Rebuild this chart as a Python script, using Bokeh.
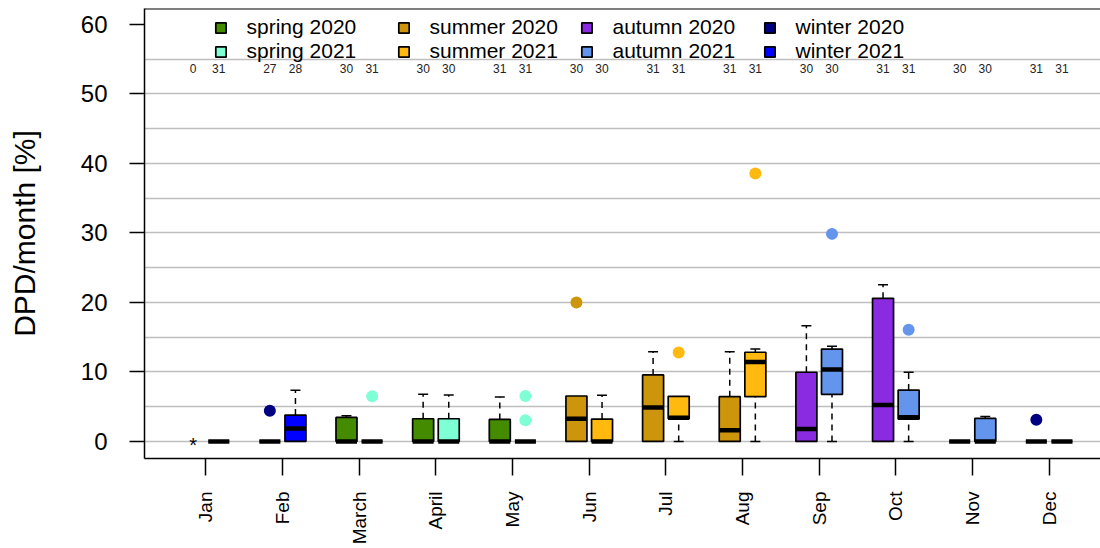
import math
from bokeh.plotting import figure
from bokeh.models import FixedTicker, Legend, LegendItem, Span, Range1d
from bokeh.embed import file_html
from bokeh.resources import INLINE
from bokeh.core.properties import value

# ---------------- data ----------------
months = ["Jan", "Feb", "March", "April", "May", "Jun", "Jul", "Aug", "Sep", "Oct", "Nov", "Dec"]
season_of_month = ["winter", "winter", "spring", "spring", "spring", "summer",
                   "summer", "summer", "autumn", "autumn", "autumn", "winter"]
years = ["2020", "2021"]

# box statistics per month (None = no data)
low_2020 = [None, 0, 0, 0, 0, 0, 0, 0, 0, 0, 0, 0]
q1_2020 = [None, 0, 0, 0, 0, 0, 0, 0, 0, 0, 0, 0]
med_2020 = [None, 0, 0, 0, 0, 3.27, 4.9, 1.63, 1.78, 5.24, 0, 0]
q3_2020 = [None, 0, 3.46, 3.27, 3.17, 6.54, 9.57, 6.45, 9.96, 20.6, 0, 0]
high_2020 = [None, 0, 3.7, 6.78, 6.4, 6.54, 12.9, 12.9, 16.64, 22.55, 0, 0]

low_2021 = [0, 0, 0, 0, 0, 0, 0, 0, 0, 0, 0, 0]
q1_2021 = [0, 0, 0, 0, 0, 0, 3.27, 6.45, 6.78, 3.22, 0, 0]
med_2021 = [0, 1.88, 0, 0, 0, 0, 3.4, 11.44, 10.34, 3.5, 0, 0]
q3_2021 = [0, 3.8, 0, 3.27, 0, 3.22, 6.49, 12.84, 13.3, 7.4, 3.32, 0]
high_2021 = [0, 7.36, 0, 6.68, 0, 6.64, 6.49, 13.3, 13.7, 9.96, 3.6, 0]

# outliers
out_month = ["Feb", "March", "May", "May", "Jun", "Jul", "Aug", "Sep", "Oct", "Dec"]
out_year = ["2020", "2021", "2021", "2021", "2020", "2021", "2021", "2021", "2021", "2020"]
out_value = [4.43, 6.49, 6.54, 3.07, 20.0, 12.8, 38.57, 29.87, 16.06, 3.13]

# number of days with data
counts_2020 = [0, 27, 30, 30, 31, 30, 31, 31, 30, 31, 30, 31]
counts_2021 = [31, 28, 31, 30, 31, 30, 31, 31, 30, 31, 30, 31]

colors = {
    ("spring", "2020"): "#458B00", ("spring", "2021"): "#7FFFD4",
    ("summer", "2020"): "#CD950C", ("summer", "2021"): "#FFB90F",
    ("autumn", "2020"): "#8A2BE2", ("autumn", "2021"): "#6495ED",
    ("winter", "2020"): "#000080", ("winter", "2021"): "#0000FF",
}
seasons = ["spring", "summer", "autumn", "winter"]

# ---------------- layout constants ----------------
OFFSET = 0.167
BOX_W = 0.274
CAP_W = 0.13
FONT = "Liberation Sans"

stats = {
    "2020": (low_2020, q1_2020, med_2020, q3_2020, high_2020),
    "2021": (low_2021, q1_2021, med_2021, q3_2021, high_2021),
}


def xpos(month_idx, year):
    return month_idx + 1 + (-OFFSET if year == "2020" else OFFSET)


p = figure(width=1100, height=548, output_backend="svg", toolbar_location=None,
           x_range=Range1d(0.1977, 12.670), y_range=Range1d(-2.45, 62.3),
           min_border_left=144, min_border_right=0, min_border_top=8, min_border_bottom=90)
p.outline_line_color = None
p.background_fill_color = "white"
p.xgrid.visible = False
p.ygrid.ticker = FixedTicker(ticks=list(range(0, 60, 5)))
p.ygrid.grid_line_color = "#BEBEBE"
p.ygrid.grid_line_width = 1.5

# y axis
p.yaxis.ticker = FixedTicker(ticks=list(range(0, 61, 10)))
p.yaxis.minor_tick_line_color = None
p.yaxis.major_tick_in = 0
p.yaxis.major_tick_out = 15
p.yaxis.major_tick_line_width = 1.5
p.yaxis.axis_line_width = 1.5
p.yaxis.major_label_text_font = FONT
p.yaxis.major_label_text_font_size = "24px"
p.yaxis.major_label_text_color = "black"
p.yaxis.major_label_standoff = 22
p.yaxis.axis_label = "DPD/month [%]"
p.yaxis.axis_label_text_font = FONT
p.yaxis.axis_label_text_font_size = "30px"
p.yaxis.axis_label_text_font_style = "normal"
p.yaxis.axis_label_text_color = "black"
p.yaxis.axis_label_standoff = 37

# x axis
p.xaxis.ticker = FixedTicker(ticks=list(range(1, 13)))
p.xaxis.major_label_overrides = {i + 1: m for i, m in enumerate(months)}
p.xaxis.major_label_orientation = math.pi / 2
p.xaxis.minor_tick_line_color = None
p.xaxis.major_tick_in = 0
p.xaxis.major_tick_out = 17
p.xaxis.major_tick_line_width = 1.5
p.xaxis.axis_line_width = 1.5
p.xaxis.major_label_text_font = FONT
p.xaxis.major_label_text_font_size = "19px"
p.xaxis.major_label_text_color = "black"
p.xaxis.major_label_standoff = 16

# top border
p.add_layout(Span(location=62.3, dimension="width", line_color="black", line_width=2))

# whiskers and caps
wx0, wy0, wy1 = [], [], []
cx, cy = [], []
for yr in years:
    lo, q1, med, q3, hi = stats[yr]
    for i in range(12):
        if q1[i] is None:
            continue
        x = xpos(i, yr)
        if hi[i] > q3[i]:
            wx0.append(x); wy0.append(q3[i]); wy1.append(hi[i])
            cx.append(x); cy.append(hi[i])
        if q1[i] > lo[i]:
            wx0.append(x); wy0.append(lo[i]); wy1.append(q1[i])
            cx.append(x); cy.append(lo[i])
p.segment(x0=wx0, y0=wy0, x1=wx0, y1=wy1, line_color="black", line_width=1.5, line_dash="6 5")
p.segment(x0=[x - CAP_W / 2 for x in cx], y0=cy, x1=[x + CAP_W / 2 for x in cx], y1=cy,
          line_color="black", line_width=1.5)

# boxes per season/year
legend_renderers = {}
for yr in years:
    lo, q1, med, q3, hi = stats[yr]
    for s in seasons:
        left, right, bottom, top = [], [], [], []
        for i in range(12):
            if season_of_month[i] != s or q1[i] is None:
                continue
            x = xpos(i, yr)
            left.append(x - BOX_W / 2); right.append(x + BOX_W / 2)
            bottom.append(q1[i]); top.append(q3[i])
        r = p.quad(left=left, right=right, bottom=bottom, top=top,
                   fill_color=colors[(s, yr)], line_color="black", line_width=1.7)
        legend_renderers[(s, yr)] = r

# medians
mx, my = [], []
for yr in years:
    lo, q1, med, q3, hi = stats[yr]
    for i in range(12):
        if med[i] is None:
            continue
        mx.append(xpos(i, yr)); my.append(med[i])
p.segment(x0=[x - BOX_W / 2 for x in mx], y0=my, x1=[x + BOX_W / 2 for x in mx], y1=my,
          line_color="black", line_width=4.5)

# outliers
ox = [xpos(months.index(m), y) for m, y in zip(out_month, out_year)]
oc = [colors[(season_of_month[months.index(m)], y)] for m, y in zip(out_month, out_year)]
p.scatter(x=ox, y=out_value, size=12, fill_color=oc, line_color=None)

# no-data marker (Jan 2020)
nx = [xpos(i, "2020") for i in range(12) if q1_2020[i] is None]
p.text(x=nx, y=[0] * len(nx), text=["*"] * len(nx), text_font=value(FONT),
       text_font_size="20px", text_align="center", text_baseline="middle",
       y_offset=4, text_color="black")

# counts
tx, tt = [], []
for yr, cnt in (("2020", counts_2020), ("2021", counts_2021)):
    for i in range(12):
        tx.append(xpos(i, yr)); tt.append(str(cnt[i]))
p.text(x=tx, y=[53.6] * len(tx), text=tt, text_font=value(FONT), text_font_size="12px",
       text_align="center", text_baseline="middle", text_color="#222222")

# legend
items = []
for yr in years:
    for s in seasons:
        items.append(LegendItem(label=f"{s} {yr}", renderers=[legend_renderers[(s, yr)]]))
legend = Legend(items=items, orientation="horizontal", ncols=4,
                glyph_width=13, glyph_height=13, label_standoff=20, label_width=150,
                spacing=0, padding=0, margin=0, label_text_font=FONT,
                label_text_font_size="21px", label_text_color="black",
                border_line_color=None, background_fill_alpha=0,
                location=(69.5, 395))
p.add_layout(legend)

open("out.html", "w").write(file_html(p, INLINE))
